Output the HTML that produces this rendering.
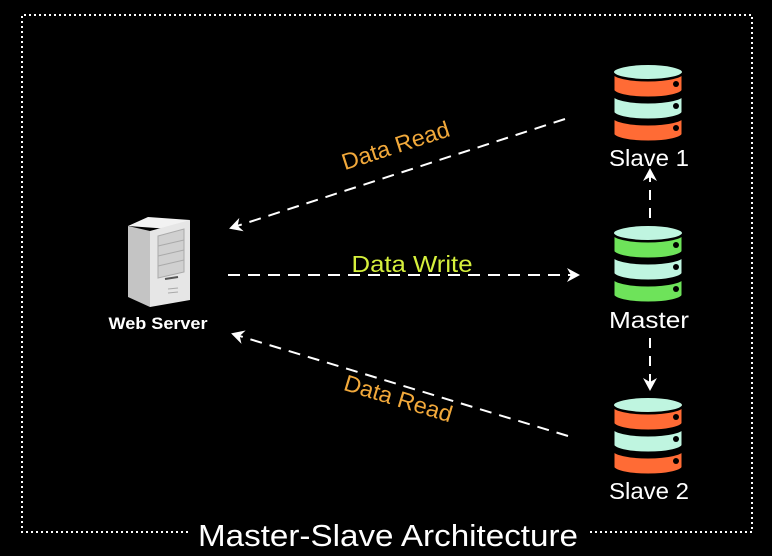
<!DOCTYPE html>
<html><head><meta charset="utf-8"><style>
html,body{margin:0;padding:0;background:#000;}
svg{display:block;font-family:"Liberation Sans","DejaVu Sans",sans-serif;}
</style></head><body>
<svg width="772" height="556" viewBox="0 0 772 556" xmlns="http://www.w3.org/2000/svg">
<defs>
<marker id="ah" markerWidth="14" markerHeight="14" refX="11" refY="7" orient="auto" markerUnits="userSpaceOnUse">
<path d="M0,0 L13,7 L0,14 L4,7 Z" fill="#fff"/>
</marker>
</defs>
<rect width="772" height="556" fill="#000"/>
<path d="M188,532 H22 V15 H752 V532 H590" fill="none" stroke="#fff" stroke-width="2" stroke-dasharray="2 3"/>
<text x="388" y="546" fill="#fff" font-size="31" text-anchor="middle" textLength="380" lengthAdjust="spacingAndGlyphs">Master-Slave Architecture</text>

<g transform="translate(612,64)">
<path d="M1,52 A35,8 0 0 0 71,52 V70 A35,8 0 0 1 1,70 Z" fill="#ff6b35" stroke="#000" stroke-width="3"/>
<path d="M1,30 A35,8 0 0 0 71,30 V48 A35,8 0 0 1 1,48 Z" fill="#bff5e0" stroke="#000" stroke-width="3"/>
<path d="M1,8 A35,8 0 0 0 71,8 V26 A35,8 0 0 1 1,26 Z" fill="#ff6b35" stroke="#000" stroke-width="3"/>
<ellipse cx="36" cy="8" rx="35" ry="8" fill="#bff5e0" stroke="#000" stroke-width="2"/>
<circle cx="64" cy="20" r="3" fill="#000"/><circle cx="64" cy="42" r="3" fill="#000"/><circle cx="64" cy="64" r="3" fill="#000"/>
</g>
<g transform="translate(612,225)">
<path d="M1,52 A35,8 0 0 0 71,52 V70 A35,8 0 0 1 1,70 Z" fill="#6ee35a" stroke="#000" stroke-width="3"/>
<path d="M1,30 A35,8 0 0 0 71,30 V48 A35,8 0 0 1 1,48 Z" fill="#bff5e0" stroke="#000" stroke-width="3"/>
<path d="M1,8 A35,8 0 0 0 71,8 V26 A35,8 0 0 1 1,26 Z" fill="#6ee35a" stroke="#000" stroke-width="3"/>
<ellipse cx="36" cy="8" rx="35" ry="8" fill="#bff5e0" stroke="#000" stroke-width="2"/>
<circle cx="64" cy="20" r="3" fill="#000"/><circle cx="64" cy="42" r="3" fill="#000"/><circle cx="64" cy="64" r="3" fill="#000"/>
</g>
<g transform="translate(612,397)">
<path d="M1,52 A35,8 0 0 0 71,52 V70 A35,8 0 0 1 1,70 Z" fill="#ff6b35" stroke="#000" stroke-width="3"/>
<path d="M1,30 A35,8 0 0 0 71,30 V48 A35,8 0 0 1 1,48 Z" fill="#bff5e0" stroke="#000" stroke-width="3"/>
<path d="M1,8 A35,8 0 0 0 71,8 V26 A35,8 0 0 1 1,26 Z" fill="#ff6b35" stroke="#000" stroke-width="3"/>
<ellipse cx="36" cy="8" rx="35" ry="8" fill="#bff5e0" stroke="#000" stroke-width="2"/>
<circle cx="64" cy="20" r="3" fill="#000"/><circle cx="64" cy="42" r="3" fill="#000"/><circle cx="64" cy="64" r="3" fill="#000"/>
</g>
<text x="649" y="166" fill="#fff" font-size="23" text-anchor="middle" textLength="80" lengthAdjust="spacingAndGlyphs">Slave 1</text>
<text x="649" y="328" fill="#fff" font-size="23" text-anchor="middle" textLength="80" lengthAdjust="spacingAndGlyphs">Master</text>
<text x="649" y="499" fill="#fff" font-size="23" text-anchor="middle" textLength="80" lengthAdjust="spacingAndGlyphs">Slave 2</text>

<g>
<path d="M128,226 L148,217 L190,220 L170,229 Z" fill="#f2f2f2"/>
<path d="M128,226 L150,231 L150,307 L128,297 Z" fill="#c4c4c4"/>
<path d="M150,231 L190,220 L190,300 L150,307 Z" fill="#e6e6e6"/>
<path d="M158,236 L184,229 L184,272 L158,278 Z" fill="#d0d0d0" stroke="#aaa" stroke-width="1"/>
<line x1="158" y1="246" x2="184" y2="240" stroke="#aaa"/>
<line x1="158" y1="256" x2="184" y2="250" stroke="#aaa"/>
<line x1="158" y1="266" x2="184" y2="260" stroke="#aaa"/>
<path d="M165,279 L178,277" stroke="#555" stroke-width="2"/>
<line x1="168" y1="289" x2="178" y2="288" stroke="#aaa"/>
<line x1="168" y1="293" x2="178" y2="292" stroke="#aaa"/>
</g>
<text x="158" y="329" fill="#fff" font-size="17" font-weight="bold" text-anchor="middle" textLength="99" lengthAdjust="spacingAndGlyphs">Web Server</text>

<g stroke="#fff" stroke-width="2" stroke-dasharray="12 8" fill="none">
<line x1="565" y1="119" x2="231" y2="228" marker-end="url(#ah)"/>
<line x1="228" y1="275" x2="578" y2="275" marker-end="url(#ah)"/>
<line x1="568" y1="436" x2="233" y2="334" marker-end="url(#ah)"/>
<line x1="650" y1="218" x2="650" y2="170" marker-end="url(#ah)" stroke-dasharray="10 8"/>
<line x1="650" y1="338" x2="650" y2="389" marker-end="url(#ah)" stroke-dasharray="10 8"/>
</g>
<text transform="translate(398,153) rotate(-18)" fill="#f2a93b" font-size="23" text-anchor="middle" textLength="112" lengthAdjust="spacingAndGlyphs">Data Read</text>
<text x="412" y="272" fill="#d6f03c" font-size="23" text-anchor="middle" textLength="121" lengthAdjust="spacingAndGlyphs">Data Write</text>
<text transform="translate(396,406) rotate(17)" fill="#f2a93b" font-size="23" text-anchor="middle" textLength="112" lengthAdjust="spacingAndGlyphs">Data Read</text>
</svg>
</body></html>
